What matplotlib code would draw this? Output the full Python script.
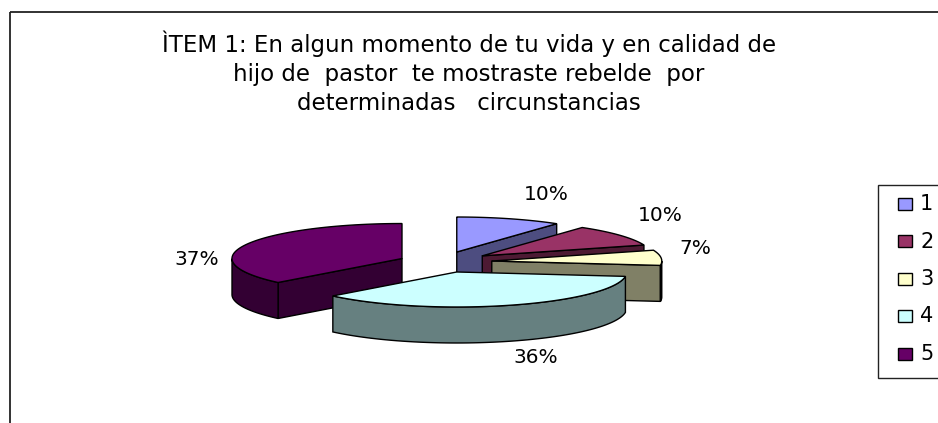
""" Item 1 pie chart (3D exploded style) """
import numpy as np
import matplotlib
matplotlib.use("Agg")
import matplotlib.pyplot as plt
from matplotlib.patches import Polygon, Rectangle

# data
categories = ["1", "2", "3", "4", "5"]
values = [10, 10, 7, 36, 37]
pct_labels = ["10%", "10%", "7%", "36%", "37%"]
colors = ["#9999FF", "#993366", "#FFFFCC", "#CCFFFF", "#660066"]
title_lines = ["ÌTEM 1: En algun momento de tu vida y en calidad de",
               "hijo de  pastor  te mostraste rebelde  por",
               "determinadas   circunstancias"]

# layout (pixels)
W, H = 938, 423
cx, cy = 441, 262          # pie centre
rx, ry = 170, 35           # ellipse radii
depth = 36                 # pie thickness
explode = [0.3, 0.3, 0.3, 0.3, 0.25]
label_off = [(37, -24), (40, -20), (34, -9), (26, 16), (-49, 15)]

plt.rcParams['font.family'] = ['DejaVu Sans']

fig = plt.figure(figsize=(W / 100, H / 100), dpi=100)
ax = fig.add_axes([0, 0, 1, 1])
ax.set_xlim(0, W)
ax.set_ylim(H, 0)
ax.axis('off')

# outer chart frame
ax.add_patch(Rectangle((10, 12), W, H, fill=False, edgecolor='#222222', lw=1.3))


def shade(c, f=0.5):
    r, g, b = matplotlib.colors.to_rgb(c)
    return (r * f, g * f, b * f)


def pt(ox, oy, a, dz=0):
    return (ox + rx * np.cos(a), oy - ry * np.sin(a) + dz)


# slice angles, clockwise from 12 o'clock
fracs = np.array(values) / sum(values)
ends = np.radians(90 - 360 * np.cumsum(fracs))
starts = np.radians(90 - 360 * np.concatenate([[0], np.cumsum(fracs)[:-1]]))

slices = []
for i in range(len(values)):
    a_hi, a_lo = starts[i], ends[i]          # a_lo < a_hi
    mid = (a_hi + a_lo) / 2
    ox = cx + explode[i] * rx * np.cos(mid)
    oy = cy - explode[i] * ry * np.sin(mid)
    slices.append((i, a_lo, a_hi, mid, ox, oy))

# paint back to front
for i, a_lo, a_hi, mid, ox, oy in sorted(slices, key=lambda s: -np.sin(s[3])):
    col = colors[i]
    side = shade(col)
    # radial cut faces facing the viewer
    for a, nrm in ((a_lo, a_lo - np.pi / 2), (a_hi, a_hi + np.pi / 2)):
        if np.sin(nrm) < -1e-6:
            p = pt(ox, oy, a)
            poly = [(ox, oy), p, (p[0], p[1] + depth), (ox, oy + depth)]
            ax.add_patch(Polygon(poly, closed=True, facecolor=side,
                                 edgecolor='black', lw=1.0))
    # outer wall (front half only)
    angs = np.linspace(a_lo, a_hi, 200)
    front = angs[np.sin(angs) <= 0]
    if len(front) > 1:
        top = [pt(ox, oy, a) for a in front]
        bot = [pt(ox, oy, a, depth) for a in front[::-1]]
        ax.add_patch(Polygon(top + bot, closed=True, facecolor=side,
                             edgecolor='black', lw=1.0))
    # top face
    face = [(ox, oy)] + [pt(ox, oy, a) for a in angs]
    ax.add_patch(Polygon(face, closed=True, facecolor=col,
                         edgecolor='black', lw=1.0))
    # percentage label
    lx, ly = pt(ox, oy, mid)
    if np.sin(mid) < 0:
        ly += depth
    ax.text(lx + label_off[i][0], ly + label_off[i][1], pct_labels[i],
            ha='center', va='center', fontsize=14.5, color='black')

# title
for k, line in enumerate(title_lines):
    ax.text(469, 44 + k * 30, line, ha='center', va='center',
            fontsize=16.5, color='black')

# legend
ax.add_patch(Rectangle((878, 185), 80, 193, fill=True, facecolor='white',
                       edgecolor='#222222', lw=1.0))
for k, c in enumerate(categories):
    yy = 204 + k * 37.5
    ax.add_patch(Rectangle((898, yy - 6), 14, 12, facecolor=colors[k],
                           edgecolor='black', lw=1.0))
    ax.text(920, yy, c, ha='left', va='center', fontsize=15, color='black')

fig.savefig("out.png", dpi=100)
